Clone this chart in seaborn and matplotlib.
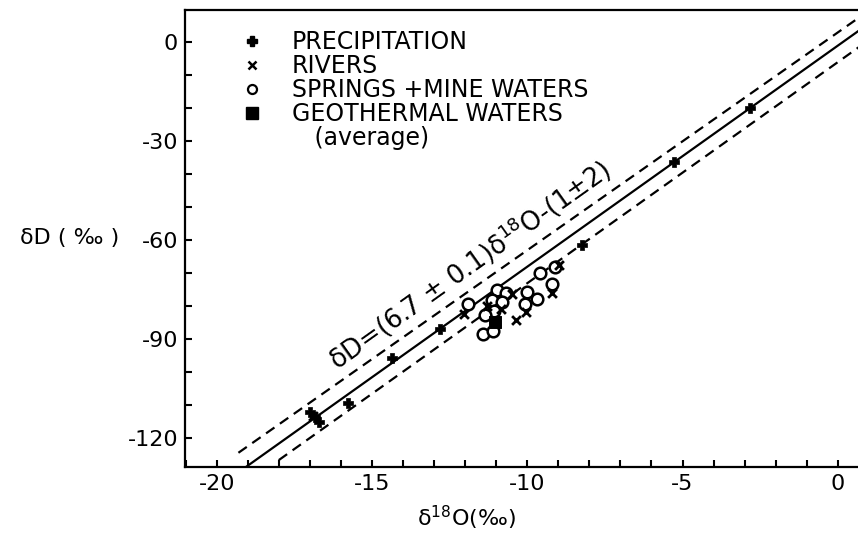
import numpy as np
import pandas as pd
import matplotlib
matplotlib.use("Agg")
import matplotlib.pyplot as plt
import seaborn as sns
from matplotlib.lines import Line2D
from matplotlib.ticker import MultipleLocator

# ---------------- data ----------------
precip_o18 = [-2.82, -5.29, -8.24, -12.81, -14.36, -15.76, -17.00, -16.85, -16.72]
precip_dD = [-19.9, -36.4, -61.3, -86.8, -95.7, -109.2, -112.0, -113.5, -115.0]

river_o18 = [-12.04, -10.36, -10.04, -10.48, -9.21, -8.99, -11.31, -10.85, -16.90]
river_dD = [-82.3, -84.1, -81.8, -76.4, -76.1, -67.4, -79.9, -80.9, -113.3]

spring_o18 = [-11.90, -10.96, -10.68, -11.14, -10.82, -11.07, -11.36, -11.41,
              -11.11, -10.00, -9.69, -10.07, -9.59, -9.10, -9.21]
spring_dD = [-79.4, -75.2, -76.1, -78.2, -78.8, -81.4, -82.6, -88.3,
             -87.6, -75.7, -77.8, -79.4, -69.9, -68.0, -73.1]

geo_o18 = [-11.04]
geo_dD = [-84.9]

# meteoric water line and its envelope
line_slope = [6.7, 6.6, 6.7]
line_intercept = [-1.0, 3.0, -6.0]
line_xstart = [-19.6, -19.3, -18.0]
line_style = ["solid", "dashed", "dashed"]

x_ticks_major = [-20, -15, -10, -5, 0]
y_ticks_major = [0, -30, -60, -90, -120]

legend_labels = ["PRECIPITATION", "RIVERS", "SPRINGS +MINE WATERS",
                 "GEOTHERMAL WATERS", "   (average)"]
equation = r"δD=(6.7 ± 0.1)δ$^{18}$O-(1±2)"
xlabel = r"δ$^{18}$O(‰)"
ylabel = "δD ( ‰ )"

# ---------------- style ----------------
sns.set_style("ticks")
plt.rcParams["font.family"] = ["DejaVu Sans"]
plt.rcParams["axes.unicode_minus"] = False
plt.rcParams["mathtext.fontset"] = "dejavusans"
plt.rcParams["text.color"] = "black"
plt.rcParams["axes.labelcolor"] = "black"
plt.rcParams["xtick.color"] = "black"
plt.rcParams["ytick.color"] = "black"

fig = plt.figure(figsize=(8.58, 5.41), dpi=100)
ax = fig.add_axes([185 / 858, 1 - 466.7 / 541, 673 / 858, 456.7 / 541])

# lines
for m, b, xs, ls in zip(line_slope, line_intercept, line_xstart, line_style):
    xx = np.array([xs, 2.0])
    df_line = pd.DataFrame({"x": xx, "y": m * xx + b})
    sns.lineplot(data=df_line, x="x", y="y", ax=ax, color="black",
                 linewidth=1.6, zorder=2)
    if ls == "dashed":
        ax.lines[-1].set_dashes((4.6, 3.0))

# points
sns.scatterplot(x=spring_o18, y=spring_dD, ax=ax, marker="o", s=70,
                facecolor="white", edgecolor="black", linewidth=1.8, zorder=4)
sns.scatterplot(x=precip_o18, y=precip_dD, ax=ax, marker="P", s=55,
                color="black", edgecolor="black", linewidth=0.5, zorder=5)
sns.scatterplot(x=river_o18, y=river_dD, ax=ax, marker="x", s=40,
                color="black", linewidth=2.0, zorder=5)
sns.scatterplot(x=geo_o18, y=geo_dD, ax=ax, marker="s", s=75,
                color="black", edgecolor="black", zorder=6)

ax.set_xlim(-21.02, 0.65)
ax.set_ylim(-128.6, 9.8)

# axes styling
ax.xaxis.set_minor_locator(MultipleLocator(1))
ax.yaxis.set_minor_locator(MultipleLocator(10))
ax.set_xticks(x_ticks_major)
ax.set_yticks(y_ticks_major)
ax.set_xticklabels([str(v) for v in x_ticks_major])
ax.set_yticklabels([str(v) for v in y_ticks_major])
ax.tick_params(axis="both", which="both", direction="in", length=5,
               width=1.5, colors="black", labelsize=16, pad=5,
               top=False, right=False)
for side in ["left", "bottom", "top"]:
    ax.spines[side].set_linewidth(1.6)
    ax.spines[side].set_color("black")
ax.spines["right"].set_visible(False)

ax.set_xlabel(xlabel, fontsize=16, va="center")
ax.xaxis.set_label_coords(0.419, -0.112)
ax.set_ylabel(ylabel, fontsize=16, rotation=0, ha="center", va="center")
ax.yaxis.set_label_coords(-0.171, 0.50)

# equation along the line
p1 = ax.transData.transform((-16, 6.7 * -16 - 1))
p2 = ax.transData.transform((-6, 6.7 * -6 - 1))
angle = np.degrees(np.arctan2(p2[1] - p1[1], p2[0] - p1[0]))
ax.text(-16.1, -99.6, equation, rotation=angle, rotation_mode="anchor",
        ha="left", va="baseline", fontsize=18.5, zorder=7)

# legend
handles = [
    Line2D([], [], linestyle="none", marker="P", markersize=7, color="black"),
    Line2D([], [], linestyle="none", marker="x", markersize=6, color="black",
           markeredgewidth=1.8),
    Line2D([], [], linestyle="none", marker="o", markersize=6.5,
           markerfacecolor="white", markeredgecolor="black", markeredgewidth=1.6),
    Line2D([], [], linestyle="none", marker="s", markersize=8, color="black"),
    Line2D([], [], linestyle="none", marker=None),
]
leg = ax.legend(handles, legend_labels, loc="upper left",
                bbox_to_anchor=(0.0856, 0.956), frameon=False, fontsize=17,
                handlelength=0.8, handletextpad=1.29, labelspacing=0.0,
                borderpad=0, borderaxespad=0)

fig.savefig("out.png", dpi=100)
